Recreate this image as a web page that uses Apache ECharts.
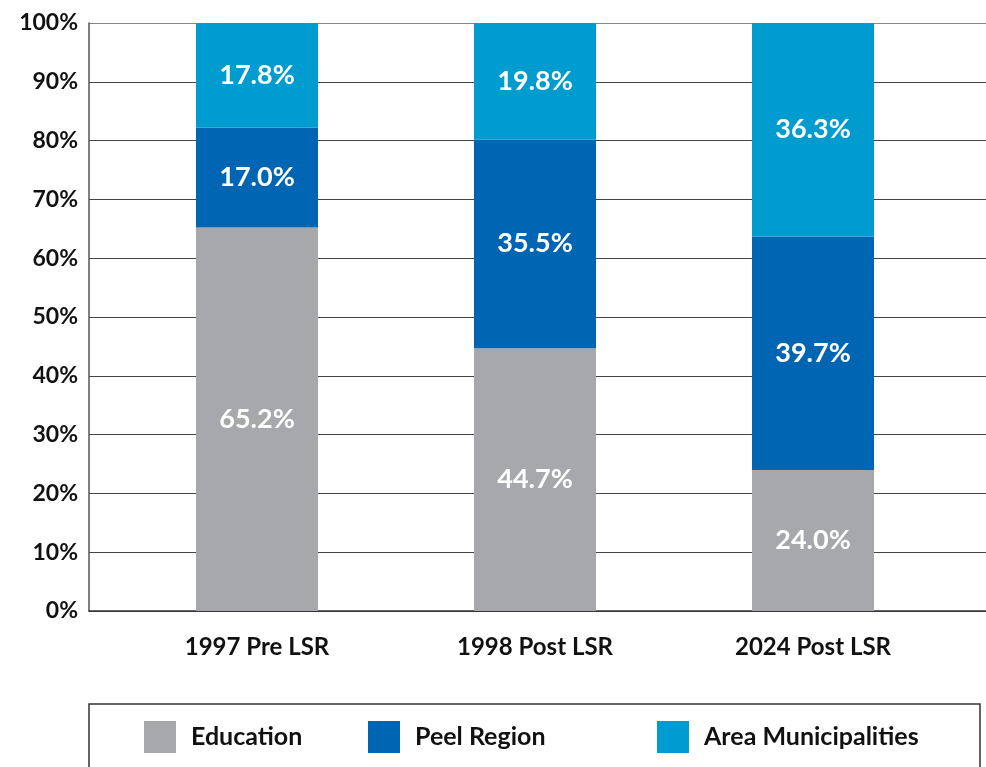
<!DOCTYPE html>
<html>
<head>
<meta charset="utf-8">
<script src="https://cdn.jsdelivr.net/npm/echarts@6/dist/echarts.min.js"></script>
<style>html,body{margin:0;padding:0;background:#fff}#c{width:986px;height:767px}</style>
</head>
<body>
<div id="c"></div>
<script>
const categories = ['1997 Pre LSR', '1998 Post LSR', '2024 Post LSR'];
const education = [65.2, 44.7, 24.0];
const peelRegion = [17.0, 35.5, 39.7];
const areaMunicipalities = [17.8, 19.8, 36.3];
const seriesNames = ['Education', 'Peel Region', 'Area Municipalities'];
const yTicks = [0, 10, 20, 30, 40, 50, 60, 70, 80, 90, 100];

const FONT = 'Lato';
const colors = ['#A7A8AB', '#0066B3', '#009BCF'];

const labelStyle = {
  show: true, position: 'inside', color: '#fff', fontFamily: FONT,
  fontWeight: 'bold', fontSize: 27,
  formatter: p => Number(p.value).toFixed(1) + '%'
};

function mkSeries(name, data, color) {
  return {
    name, type: 'bar', stack: 'total', barWidth: 122,
    xAxisIndex: 0, yAxisIndex: 0,
    data: data, itemStyle: { color }, label: labelStyle
  };
}

function mkLegend(name, left) {
  return {
    data: [name], left, top: 716, icon: 'rect', itemWidth: 32, itemHeight: 32,
    selectedMode: false,
    textStyle: { fontFamily: FONT, fontSize: 25, fontWeight: 'bold', color: '#111', padding: [0, 0, 0, 10] }
  };
}

const chart = echarts.init(document.getElementById('c'), null, { renderer: 'canvas' });
chart.setOption({
  animation: false,
  color: colors,
  grid: [
    { left: 118, top: 23, right: 34, bottom: 156, containLabel: false },
    { left: 89, top: 23, right: 0, bottom: 156, containLabel: false }
  ],
  xAxis: [
    {
      gridIndex: 0, type: 'category', data: categories,
      axisLine: { show: false }, axisTick: { show: false },
      axisLabel: { margin: 24, fontFamily: FONT, fontWeight: 'bold', fontSize: 24, color: '#111' }
    },
    {
      gridIndex: 1, type: 'value', min: 0, max: 1,
      splitLine: { show: false }, axisTick: { show: false }, axisLabel: { show: false },
      axisLine: { show: true, onZero: false, lineStyle: { color: '#333', width: 1.5 } }
    }
  ],
  yAxis: [
    {
      gridIndex: 0, type: 'value', min: 0, max: 100, interval: 10,
      show: false, splitLine: { show: false }
    },
    {
      gridIndex: 1, type: 'value', min: 0, max: 100, interval: 10,
      axisLine: { show: true, onZero: false, lineStyle: { color: '#555', width: 1.5 } },
      axisTick: { show: false },
      splitLine: { show: true, lineStyle: { color: yTicks.map(t => t === 100 ? '#888' : '#444'), width: 1.2 } },
      axisLabel: {
        formatter: v => v + '%', margin: 11,
        fontFamily: FONT, fontWeight: 'bold', fontSize: 23, color: '#111'
      }
    }
  ],
  legend: [
    mkLegend(seriesNames[0], 139),
    mkLegend(seriesNames[1], 363),
    mkLegend(seriesNames[2], 652)
  ],
  graphic: [{
    type: 'rect', shape: { x: 89, y: 704, width: 891, height: 90 },
    style: { fill: 'none', stroke: '#333', lineWidth: 1.5 }, z: -1
  }],
  series: [
    mkSeries(seriesNames[0], education, colors[0]),
    mkSeries(seriesNames[1], peelRegion, colors[1]),
    mkSeries(seriesNames[2], areaMunicipalities, colors[2])
  ]
});
</script>
</body>
</html>
